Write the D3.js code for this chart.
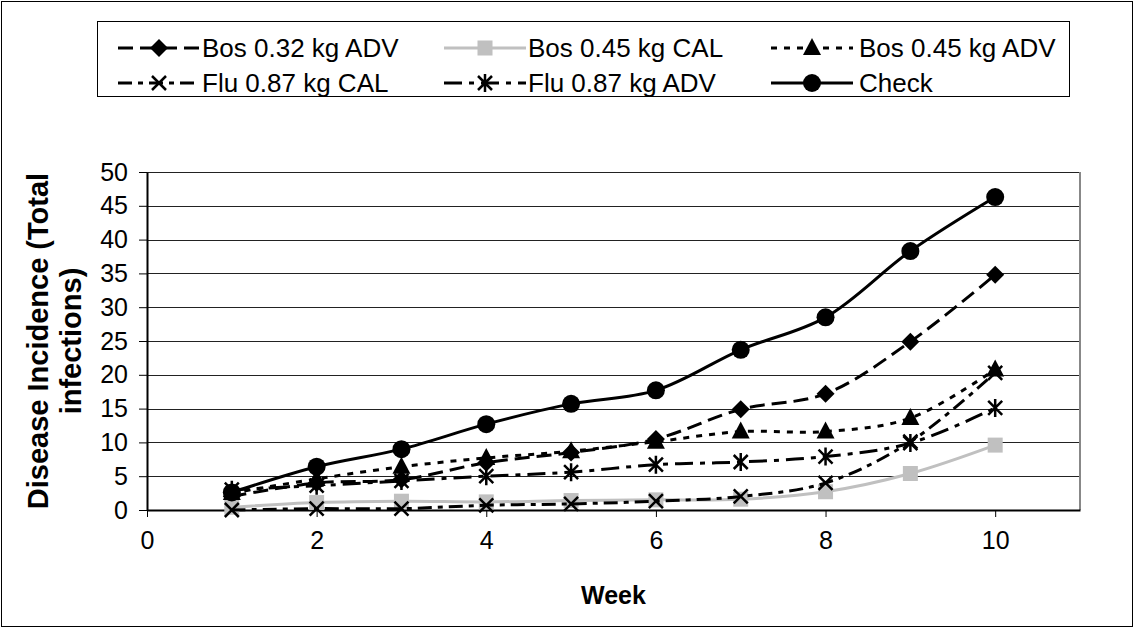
<!DOCTYPE html>
<html>
<head>
<meta charset="utf-8">
<script src="https://cdn.jsdelivr.net/npm/d3@7"></script>
<style>
body { margin: 0; background: #fff; }
text { font-family: "Liberation Sans", Arial, sans-serif; }
</style>
</head>
<body>
<div id="chart-area"></div>
<script>
// data
var weeks = [1, 2, 3, 4, 5, 6, 7, 8, 9, 10];
var bos032adv = [2.0, 4.0, 4.5, 7.0, 8.5, 10.5, 14.9, 17.2, 24.9, 34.8];
var bos045cal = [0.4, 1.1, 1.3, 1.2, 1.4, 1.5, 1.6, 2.7, 5.4, 9.6];
var bos045adv = [2.5, 4.6, 6.4, 7.7, 8.7, 10.1, 11.6, 11.6, 13.6, 20.8];
var flu087cal = [0.0, 0.2, 0.2, 0.7, 0.9, 1.3, 2.0, 4.0, 10.1, 20.3];
var flu087adv = [3.0, 3.6, 4.3, 5.0, 5.6, 6.7, 7.1, 7.9, 9.9, 15.1];
var check = [2.6, 6.4, 9.0, 12.7, 15.7, 17.7, 23.7, 28.5, 38.3, 46.3];

var seriesNames = ["Bos 0.32 kg ADV", "Bos 0.45 kg CAL", "Bos 0.45 kg ADV",
	"Flu 0.87 kg CAL", "Flu 0.87 kg ADV", "Check"];
var yTicks = [0, 5, 10, 15, 20, 25, 30, 35, 40, 45, 50];
var xTicks = [0, 2, 4, 6, 8, 10];

var W = 1134, H = 628;
var plotLeft = 147, plotRight = 1080, plotTop = 172, plotBottom = 510;

var svg = d3.select("#chart-area").append("svg")
	.attr("width", W)
	.attr("height", H);

// outer border
svg.append("rect")
	.attr("x", 1.5).attr("y", 1.5)
	.attr("width", W - 3).attr("height", H - 3)
	.attr("fill", "none").attr("stroke", "#000").attr("stroke-width", 1);

var x = d3.scaleLinear().domain([0, 11]).range([plotLeft, plotRight]);
var y = d3.scaleLinear().domain([0, 50]).range([plotBottom, plotTop]);

// gridlines
svg.append("g").selectAll("line")
	.data(yTicks.slice(1))
	.enter().append("line")
	.attr("x1", plotLeft).attr("x2", plotRight)
	.attr("y1", function(d){ return Math.round(y(d)) + 0.5; })
	.attr("y2", function(d){ return Math.round(y(d)) + 0.5; })
	.attr("stroke", "#222").attr("stroke-width", 1);

// right border of plot
svg.append("line")
	.attr("x1", plotRight).attr("x2", plotRight)
	.attr("y1", plotTop).attr("y2", plotBottom)
	.attr("stroke", "#888").attr("stroke-width", 2);

// Y axis
var yAxis = svg.append("g")
	.attr("transform", "translate(" + plotLeft + ",0)")
	.call(d3.axisLeft(y).tickValues(yTicks).tickSize(8).tickPadding(11).tickSizeOuter(0));
// X axis
var xAxis = svg.append("g")
	.attr("transform", "translate(0," + plotBottom + ")")
	.call(d3.axisBottom(x).tickValues(xTicks).tickSize(7).tickPadding(14).tickSizeOuter(0));

[yAxis, xAxis].forEach(function(a){
	a.select(".domain").attr("stroke", "#000").attr("stroke-width", 2);
	a.selectAll(".tick line").attr("stroke", "#000");
	a.selectAll(".tick text")
		.attr("font-family", "Liberation Sans, Arial, sans-serif")
		.attr("font-size", "25px").attr("fill", "#000");
});

// axis titles
svg.append("text")
	.attr("x", (plotLeft + plotRight) / 2).attr("y", 604)
	.attr("text-anchor", "middle")
	.attr("font-size", "25px").attr("font-weight", "bold")
	.text("Week");

var yTitle = svg.append("text")
	.attr("transform", "translate(48," + ((plotTop + plotBottom) / 2) + ") rotate(-90)")
	.attr("text-anchor", "middle")
	.attr("font-size", "29px").attr("font-weight", "bold");
yTitle.append("tspan").attr("x", 0).attr("y", 0).text("Disease Incidence (Total");
yTitle.append("tspan").attr("x", 0).attr("y", 33).text("infections)");

// series styles
var styles = [
	{ values: bos032adv, stroke: "#000", dash: "15,7", marker: "diamond" },
	{ values: bos045cal, stroke: "#c0c0c0", dash: null, marker: "square" },
	{ values: bos045adv, stroke: "#000", dash: "6,7", marker: "triangle" },
	{ values: flu087cal, stroke: "#000", dash: "14,6,5,6", marker: "x" },
	{ values: flu087adv, stroke: "#000", dash: "18,7,5,7", marker: "star" },
	{ values: check, stroke: "#000", dash: null, marker: "circle" }
];

function drawMarker(g, type, cx, cy, color) {
	var m = g.append("g").attr("transform", "translate(" + cx + "," + cy + ")");
	if (type == "diamond") {
		m.append("path").attr("d", "M0,-9L9,0L0,9L-9,0Z").attr("fill", color);
	} else if (type == "square") {
		m.append("rect").attr("x", -7.5).attr("y", -7.5).attr("width", 15).attr("height", 15).attr("fill", color);
	} else if (type == "triangle") {
		m.append("path").attr("d", "M0,-10L9,7L-9,7Z").attr("fill", color);
	} else if (type == "x") {
		m.append("path").attr("d", "M-7,-7L7,7M-7,7L7,-7").attr("stroke", color).attr("stroke-width", 2.5).attr("fill", "none");
	} else if (type == "star") {
		m.append("path").attr("d", "M-7,-7L7,7M-7,7L7,-7M0,-9L0,9").attr("stroke", color).attr("stroke-width", 2.5).attr("fill", "none");
	} else if (type == "circle") {
		m.append("circle").attr("r", 9).attr("fill", color);
	}
}

var line = d3.line()
	.x(function(d){ return x(d[0]); })
	.y(function(d){ return y(d[1]); })
	.curve(d3.curveCatmullRom.alpha(0.5));

var plot = svg.append("g");
styles.forEach(function(s){
	var pts = weeks.map(function(w, i){ return [w, s.values[i]]; });
	plot.append("path")
		.attr("d", line(pts))
		.attr("fill", "none")
		.attr("stroke", s.stroke)
		.attr("stroke-width", 3)
		.attr("stroke-dasharray", s.dash);
	pts.forEach(function(p){
		drawMarker(plot, s.marker, x(p[0]), y(p[1]), s.stroke);
	});
});

// legend
var legend = svg.append("g");
legend.append("rect")
	.attr("x", 97.5).attr("y", 21.5)
	.attr("width", 972).attr("height", 75)
	.attr("fill", "#fff").attr("stroke", "#000").attr("stroke-width", 1);

var colX = [118, 444, 771];
var textOff = [84, 84, 88];
var rowY = [48, 83];
seriesNames.forEach(function(name, i){
	var s = styles[i];
	var cx = colX[i % 3], cy = rowY[Math.floor(i / 3)];
	legend.append("line")
		.attr("x1", cx).attr("x2", cx + 82)
		.attr("y1", cy).attr("y2", cy)
		.attr("stroke", s.stroke).attr("stroke-width", 3)
		.attr("stroke-dasharray", s.dash);
	drawMarker(legend, s.marker, cx + 41, cy, s.stroke);
	legend.append("text")
		.attr("x", cx + textOff[i % 3])
		.attr("y", cy)
		.attr("dy", "0.35em")
		.attr("font-size", "26px")
		.text(name);
});
</script>
</body>
</html>
